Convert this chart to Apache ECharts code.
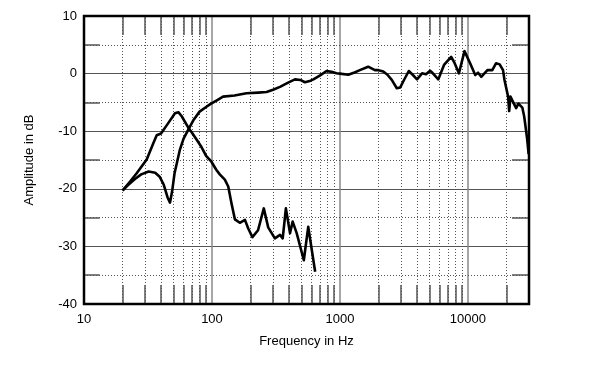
<!DOCTYPE html>
<html><head><meta charset="utf-8">
<script src="https://cdn.jsdelivr.net/npm/echarts@6/dist/echarts.min.js"></script>
<style>html,body{margin:0;padding:0;background:#fff}#c{width:600px;height:371px}</style>
</head><body><div id="c"></div>
<script>
// Main (woofer/system) response
const mainF  = [20,22,25,28,32,36,39,42,45,47,49,51,56,60,65,72,80,90,97,110,122,150,186,230,267,300,340,390,445,490,532,580,620,700,785,860,940,1000,1160,1300,1430,1660,1875,2000,2180,2350,2540,2780,2960,3150,3450,3700,4000,4380,4700,5060,5300,5870,6500,7400,7800,8500,9400,9700,10400,11400,12000,12700,14200,15500,16600,17700,18800,19300,20600,21000,21500,22500,23800,24800,26600,27500,28900,29800];
const mainDb = [-20.3,-19.4,-18.3,-17.5,-17.0,-17.2,-17.9,-19.3,-21.5,-22.4,-20.2,-17.3,-13.3,-11.3,-9.8,-8.0,-6.6,-5.8,-5.3,-4.6,-4.0,-3.8,-3.4,-3.3,-3.2,-2.8,-2.3,-1.6,-1.0,-1.1,-1.5,-1.3,-1.0,-0.3,0.45,0.3,0.05,0,-0.2,0.2,0.6,1.2,0.6,0.6,0.35,-0.2,-1.1,-2.55,-2.4,-1.2,0.45,-0.2,-1.0,0.05,-0.1,0.5,0.1,-1.0,1.5,2.9,2.0,0.05,3.9,3.6,1.8,-0.25,0.15,-0.55,0.6,0.6,1.8,1.6,0.6,-1.1,-4.0,-6.5,-4.0,-4.9,-6.0,-5.2,-5.9,-7.4,-11.0,-14.0];
// Port / second driver response
const portF  = [20,23,25.8,28,30.9,34.8,37,40,45.5,51.4,54.6,58,65,70,76,82,90,99,108,115,126,134,142,151,165,181,192,207,229,254,275,310,340,357,378,407,427,459,522,565,640];
const portDb = [-20.3,-18.7,-17.3,-16.2,-14.9,-12.1,-10.7,-10.4,-8.6,-6.9,-6.7,-7.4,-9.3,-10.3,-11.5,-12.6,-14.3,-15.3,-16.7,-17.5,-18.4,-19.6,-22.5,-25.3,-25.9,-25.4,-26.9,-28.4,-27.2,-23.4,-26.7,-28.6,-28.0,-28.6,-23.4,-27.7,-25.7,-27.7,-32.4,-26.6,-34.4];
// Grid helpers
const xMinorLines = [20,30,40,50,60,70,80,90,200,300,400,500,600,700,800,900,2000,3000,4000,5000,6000,7000,8000,9000,20000];
const yMinorLines = [5,-5,-15,-25,-35];
const xLabels = [10,100,1000,10000];

const X0 = 10, X1 = 30000, Y0 = -40, Y1 = 10;
const tickDb = 3.3;           // vertical tick length in dB units
const tickLeftF = 13.3, tickRightF = 22100;

const gridLines = [];
xMinorLines.forEach(f => gridLines.push({xAxis: f, lineStyle:{type:[1,2], color:'#555', width:1}}));
yMinorLines.forEach(d => gridLines.push({yAxis: d, lineStyle:{type:[1,2], color:'#555', width:1}}));
const tickSegs = [];
xMinorLines.forEach(f => {
  tickSegs.push([{coord:[f, Y1]},{coord:[f, Y1 - tickDb]}]);
  tickSegs.push([{coord:[f, Y0]},{coord:[f, Y0 + tickDb]}]);
});
yMinorLines.forEach(d => {
  tickSegs.push([{coord:[X0, d]},{coord:[tickLeftF, d]}]);
  tickSegs.push([{coord:[tickRightF, d]},{coord:[X1, d]}]);
});

const font = 'Liberation Sans, Arial, sans-serif';
const chart = echarts.init(document.getElementById('c'), null, {renderer:'canvas'});
chart.setOption({
  animation: false,
  backgroundColor: '#fff',
  grid: {left: 84, right: 71, top: 16, bottom: 67, show: true, borderColor: '#000', borderWidth: 2.5, backgroundColor: 'transparent', z: 10},
  xAxis: {
    type: 'log', logBase: 10, min: X0, max: X1,
    name: 'Frequency in Hz', nameLocation: 'middle', nameGap: 31,
    nameTextStyle: {fontFamily: font, fontSize: 13, color: '#000'},
    axisLine: {show: false}, axisTick: {show: false},
    axisLabel: {fontFamily: font, fontSize: 13, color: '#000', margin: 9, showMaxLabel: false,
      formatter: v => { const r = Math.round(v); return xLabels.indexOf(r) >= 0 ? String(r) : ''; }},
    splitLine: {show: true, lineStyle: {color: '#888', width: 1.5}}
  },
  yAxis: {
    type: 'value', min: Y0, max: Y1, interval: 10,
    name: 'Amplitude in dB', nameLocation: 'middle', nameGap: 48,
    nameTextStyle: {fontFamily: font, fontSize: 13, color: '#000'},
    axisLine: {show: false}, axisTick: {show: false},
    axisLabel: {fontFamily: font, fontSize: 13, color: '#000', margin: 7},
    splitLine: {show: true, lineStyle: {color: '#555', width: 1}}
  },
  series: [
    {type: 'line', data: [], silent: true, z: 1,
     markLine: {silent: true, symbol: ['none','none'], label: {show: false}, animation: false, data: gridLines}},
    {type: 'line', data: [], silent: true, z: 1,
     markLine: {silent: true, symbol: ['none','none'], label: {show: false}, animation: false,
       lineStyle: {type: 'solid', color: '#555', width: 1.5}, data: tickSegs}},
    {type: 'line', name: 'main', data: mainF.map((f,i) => [f, mainDb[i]]), showSymbol: false, z: 5,
     lineStyle: {color: '#000', width: 2.6, join: 'round'}},
    {type: 'line', name: 'port', data: portF.map((f,i) => [f, portDb[i]]), showSymbol: false, z: 5,
     lineStyle: {color: '#000', width: 2.6, join: 'round'}}
  ]
});
</script></body></html>
